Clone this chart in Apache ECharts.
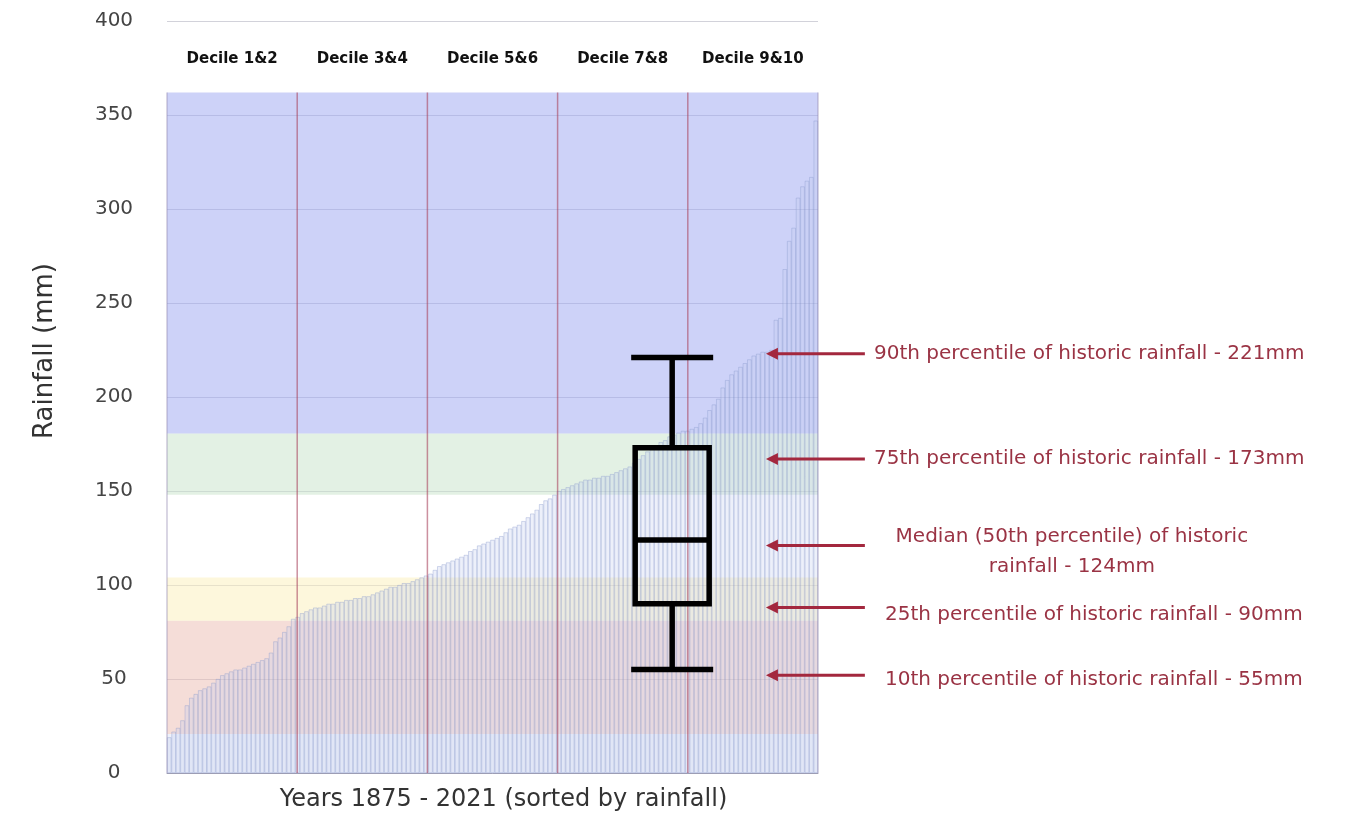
<!DOCTYPE html>
<html>
<head>
<meta charset="utf-8">
<script src="https://cdn.jsdelivr.net/npm/echarts@6/dist/echarts.min.js"></script>
<style>
html,body{margin:0;padding:0;background:#fff;}
#chart{width:1354px;height:818px;}
</style>
</head>
<body>
<div id="chart"></div>
<script>
// ---- data ----
const rainfallSorted = [
  19,22,24,28,36,40,42,44,45,46,48,50,52,53,54,55,55,56,57,58,59,60,61,64,70,72,75,78,82,83,
  85,86,87,88,88,89,90,90,91,91,92,92,93,93,94,94,95,96,97,98,99,99,100,101,101,102,103,104,105,
  106,108,110,111,112,113,114,115,116,118,119,121,122,123,124,125,126,128,130,131,132,134,136,138,140,143,145,146,148,
  150,151,152,153,154,155,156,156,157,157,158,158,159,160,161,162,163,165,167,169,171,173,174,176,177,179,180,181,182,
  182,183,184,186,189,193,196,199,205,209,212,214,216,218,220,222,223,224,224,225,241,242,268,283,290,306,312,315,317,347
];
const yearRanks = rainfallSorted.map((v, i) => String(i + 1));
const decileLabels = ['Decile 1&2', 'Decile 3&4', 'Decile 5&6', 'Decile 7&8', 'Decile 9&10'];
const bandEdges = [0, 20.7, 81, 104, 148, 180.6, 362];
const boxStats = [55, 90, 124, 173, 221]; // 10th, 25th, median, 75th, 90th percentile
const arrowLevels = [223, 167, 121, 88, 52];
const annotationTexts = [
  '90th percentile of historic rainfall - 221mm',
  '75th percentile of historic rainfall - 173mm',
  'Median (50th percentile) of historic\nrainfall - 124mm',
  '25th percentile of historic rainfall - 90mm',
  '10th percentile of historic rainfall - 55mm'
];

// ---- styles ----
const bandColors = [
  'rgba(221,228,245,0.5)',
  'rgba(235,187,177,0.5)',
  'rgba(251,239,185,0.5)',
  'rgba(255,255,255,0)',
  'rgba(199,227,201,0.5)',
  'rgba(155,165,241,0.5)'
];
const FONT = '"DejaVu Sans", sans-serif';
const BOX_CENTER = 3.88; // in decile-column units
const bandData = bandEdges.slice(0, -1).map((lo, i) => [lo, bandEdges[i + 1]]);
const dividerData = [0, 1, 2, 3, 4, 5].map(x => [x]);

const chart = echarts.init(document.getElementById('chart'), null, {renderer: 'canvas'});

const option = {
  animation: false,
  backgroundColor: '#ffffff',
  grid: {left: 167, right: 536, top: 21, bottom: 45, containLabel: false},
  xAxis: [
    {
      type: 'category', data: yearRanks, boundaryGap: true,
      axisLine: {show: true, lineStyle: {color: '#9e9eb4', width: 1}},
      axisTick: {show: false}, axisLabel: {show: false}, splitLine: {show: false},
      name: 'Years 1875 - 2021 (sorted by rainfall)', nameLocation: 'middle', nameGap: 15,
      nameTextStyle: {fontFamily: FONT, fontSize: 24, color: '#333', padding: [0, 0, 0, 22]}
    },
    {
      type: 'category', data: decileLabels, position: 'top', boundaryGap: true,
      axisLine: {show: false}, axisTick: {show: false}, splitLine: {show: false},
      axisLabel: {inside: true, interval: 0, hideOverlap: false, margin: 31, fontFamily: FONT, fontWeight: 'bold', fontSize: 15, color: '#111'}
    },
    {
      type: 'value', min: 0, max: 5, show: false
    }
  ],
  yAxis: {
    type: 'value', min: 0, max: 400, interval: 50,
    axisLine: {show: false}, axisTick: {show: false},
    axisLabel: {align: 'center', margin: 53, fontFamily: FONT, fontSize: 20, color: '#444', padding: [0, 0, 6, 0]},
    splitLine: {show: true, lineStyle: {color: '#d2d2da', width: 1.2}}
  },
  graphic: [{
    type: 'text', x: 45, y: 351, rotation: Math.PI / 2,
    style: {text: 'Rainfall (mm)', fontFamily: FONT, fontSize: 26, fill: '#333', align: 'center', verticalAlign: 'middle'}
  }],
  series: [
    {
      type: 'custom', name: 'bands', xAxisIndex: 2, z: 1, silent: true,
      data: bandData,
      encode: {y: [0, 1]},
      renderItem: function (params, api) {
        const lo = api.value(0), hi = api.value(1);
        const p1 = api.coord([0, hi]);
        const p2 = api.coord([5, lo]);
        return {type: 'rect', shape: {x: p1[0], y: p1[1], width: p2[0] - p1[0], height: p2[1] - p1[1]},
          style: {fill: bandColors[params.dataIndex]}};
      }
    },
    {
      type: 'bar', name: 'Rainfall', xAxisIndex: 0, z: 2, data: rainfallSorted,
      barCategoryGap: '0%',
      itemStyle: {color: 'rgba(196,206,238,0.3)', borderColor: 'rgba(140,155,205,0.55)', borderWidth: 0.7}
    },
    {
      type: 'custom', name: 'dividers', xAxisIndex: 2, z: 3, silent: true,
      data: dividerData,
      encode: {x: 0},
      renderItem: function (params, api) {
        const x = api.value(0);
        const top = api.coord([x, bandEdges[bandEdges.length - 1]]);
        const bot = api.coord([x, 0]);
        const edge = (x === 0 || x === 5);
        return {type: 'line', shape: {x1: top[0], y1: top[1], x2: bot[0], y2: bot[1]},
          style: {stroke: edge ? 'rgba(150,140,180,0.6)' : 'rgba(170,70,95,0.6)', lineWidth: edge ? 1.2 : 1.5}};
      }
    },
    {
      type: 'custom', name: 'box', xAxisIndex: 2, z: 4, silent: true,
      data: [boxStats],
      encode: {y: [0, 1, 2, 3, 4]},
      renderItem: function (params, api) {
        const lo = api.value(0), q1 = api.value(1), med = api.value(2), q3 = api.value(3), hi = api.value(4);
        const c = api.coord([BOX_CENTER, med]);
        const cx = c[0];
        const yLo = api.coord([BOX_CENTER, lo])[1];
        const yQ1 = api.coord([BOX_CENTER, q1])[1];
        const yQ3 = api.coord([BOX_CENTER, q3])[1];
        const yHi = api.coord([BOX_CENTER, hi])[1];
        const hw = 37, cw = 41;
        const st = {stroke: '#000', lineWidth: 5.5, fill: null};
        return {type: 'group', children: [
          {type: 'line', shape: {x1: cx, y1: yHi, x2: cx, y2: yQ3}, style: st},
          {type: 'line', shape: {x1: cx, y1: yQ1, x2: cx, y2: yLo}, style: st},
          {type: 'line', shape: {x1: cx - cw, y1: yHi, x2: cx + cw, y2: yHi}, style: st},
          {type: 'line', shape: {x1: cx - cw, y1: yLo, x2: cx + cw, y2: yLo}, style: st},
          {type: 'rect', shape: {x: cx - hw, y: yQ3, width: 2 * hw, height: yQ1 - yQ3}, style: st},
          {type: 'line', shape: {x1: cx - hw, y1: c[1], x2: cx + hw, y2: c[1]}, style: st}
        ]};
      }
    },
    {
      type: 'custom', name: 'annotations', xAxisIndex: 2, z: 5, silent: true, clip: false,
      data: arrowLevels.map(v => [v]),
      encode: {y: 0},
      renderItem: function (params, api) {
        const i = params.dataIndex;
        const v = api.value(0);
        const head = api.coord([4.6, v]);
        const tail = api.coord([5.36, v]);
        const textDy = [0, 0, 6, 7, 5][i];
        const isMedian = i === 2;
        const tx = isMedian ? api.coord([6.95, v])[0] : api.coord([5.43, v])[0] + (i >= 3 ? 11 : 0);
        const col = '#a3283e';
        return {type: 'group', children: [
          {type: 'line', shape: {x1: head[0] + 8, y1: head[1], x2: tail[0], y2: tail[1]}, style: {stroke: col, lineWidth: 3}},
          {type: 'polygon', shape: {points: [[head[0], head[1]], [head[0] + 12, head[1] - 6], [head[0] + 12, head[1] + 6]]}, style: {fill: col}},
          {type: 'text', x: tx, y: head[1] + textDy, style: {
            text: annotationTexts[i], fontFamily: FONT, fontSize: 20, fill: '#9a3344',
            align: isMedian ? 'center' : 'left', verticalAlign: 'middle', lineHeight: 30
          }}
        ]};
      }
    }
  ]
};
chart.setOption(option);
</script>
</body>
</html>
